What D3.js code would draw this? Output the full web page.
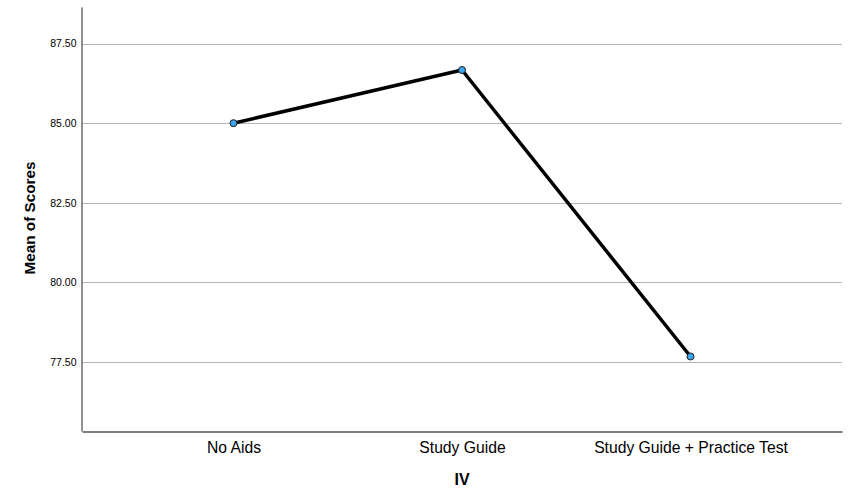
<!DOCTYPE html>
<html><head><meta charset="utf-8">
<script src="https://cdn.jsdelivr.net/npm/d3@7"></script>
<style>body{margin:0;background:#fff}svg{display:block}text{font-family:"Liberation Sans",Arial,sans-serif}</style>
</head><body>
<svg id="c" width="853" height="503"></svg>
<script>
const categories = ["No Aids", "Study Guide", "Study Guide + Practice Test"];
const values = [85.00, 86.67, 77.67];
const yTicks = [77.5, 80.0, 82.5, 85.0, 87.5];
const xTitle = "IV";
const yTitle = "Mean of Scores";

const svg = d3.select("#c");
const L = 82, R = 842, T = 7, B = 431;
const x = d3.scalePoint().domain(categories).range([L, R]).padding(0.663);
const y = d3.scaleLinear().domain([75.33, 88.65]).range([B, T]);

// gridlines
svg.append("g").selectAll("line").data(yTicks).join("line")
  .attr("x1", L).attr("x2", R)
  .attr("y1", d => Math.round(y(d)) + 0.5).attr("y2", d => Math.round(y(d)) + 0.5)
  .attr("stroke", "#b4b4b4").attr("stroke-width", 1);

// y axis
const ya = svg.append("g").attr("transform", `translate(${L - 0.5},0)`)
  .call(d3.axisLeft(y).tickValues(yTicks).tickFormat(d3.format(".2f")).tickSize(0).tickPadding(5));
ya.select(".domain").attr("stroke", "#555").attr("stroke-width", 1.3);
ya.selectAll("text").attr("font-size", 10.5).attr("fill", "#000").attr("font-family", "'Liberation Sans',Arial,sans-serif");

// x axis
const xa = svg.append("g").attr("transform", `translate(0,${B + 0.5})`)
  .call(d3.axisBottom(x).tickSize(0).tickPadding(7));
xa.select(".domain").attr("stroke", "#555").attr("stroke-width", 1.3);
xa.selectAll("text").attr("font-size", 15.7).attr("fill", "#000").attr("font-family", "'Liberation Sans',Arial,sans-serif").attr("dy", "0.9em");

// line
const line = d3.line().x((d, i) => x(categories[i])).y(d => y(d));
svg.append("path").datum(values).attr("d", line)
  .attr("fill", "none").attr("stroke", "#000").attr("stroke-width", 3.5).attr("stroke-linejoin", "round");

svg.append("g").selectAll("circle").data(values).join("circle")
  .attr("cx", (d, i) => x(categories[i])).attr("cy", d => y(d)).attr("r", 3.5)
  .attr("fill", "#3aa6f0").attr("stroke", "#1a1a1a").attr("stroke-width", 1);

// titles
svg.append("text").attr("x", 462).attr("y", 485).attr("text-anchor", "middle")
  .attr("font-size", 16).attr("font-weight", "bold").text(xTitle);
svg.append("text").attr("transform", `translate(34.5,218) rotate(-90)`).attr("text-anchor", "middle")
  .attr("font-size", 15.3).attr("font-weight", "bold").text(yTitle);
</script>
</body></html>
